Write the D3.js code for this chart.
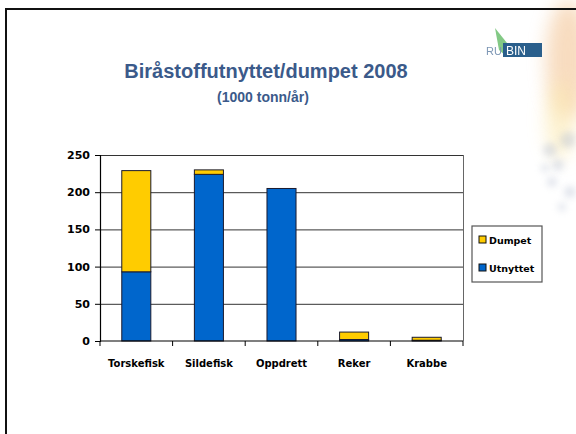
<!DOCTYPE html>
<html>
<head>
<meta charset="utf-8">
<script src="https://cdn.jsdelivr.net/npm/d3@7"></script>
<style>
  html, body { margin: 0; padding: 0; background: #fff; }
  svg { display: block; }
</style>
</head>
<body>
<div id="chart"></div>
<script>
// Biråstoff per sector, 1000 tonn per year
const categories = ["Torskefisk", "Sildefisk", "Oppdrett", "Reker", "Krabbe"];
const utnyttet = [93, 224, 205, 2, 1];
const dumpet = [136, 6, 0, 10, 4];
const yTicks = [0, 50, 100, 150, 200, 250];
const seriesNames = ["Utnyttet", "Dumpet"];
const seriesColors = ["#0066CC", "#FFCC00"];

const W = 576, H = 434;
const svg = d3.select("#chart").append("svg").attr("width", W).attr("height", H);

// soft decorative artwork along the right edge
const defs = svg.append("defs");
defs.append("filter").attr("id", "soft").attr("x", "-80%").attr("y", "-50%")
  .attr("width", "260%").attr("height", "200%")
  .append("feGaussianBlur").attr("stdDeviation", 9);
defs.append("filter").attr("id", "soft2").attr("x", "-80%").attr("y", "-80%")
  .attr("width", "260%").attr("height", "260%")
  .append("feGaussianBlur").attr("stdDeviation", 3.5);
defs.append("filter").attr("id", "soft3").attr("x", "-20%").attr("y", "-20%")
  .attr("width", "140%").attr("height", "140%")
  .append("feGaussianBlur").attr("stdDeviation", 0.6);
const deco = svg.append("g");
deco.append("ellipse").attr("cx", 568).attr("cy", 60).attr("rx", 22).attr("ry", 60)
  .attr("fill", "#f2c08c").attr("opacity", 0.55).attr("filter", "url(#soft)");
deco.append("ellipse").attr("cx", 560).attr("cy", 120).attr("rx", 14).attr("ry", 40)
  .attr("fill", "#fbe9b0").attr("opacity", 0.6).attr("filter", "url(#soft)");
[[550, 150, 7], [558, 165, 6], [568, 140, 8], [552, 182, 5], [570, 192, 6], [562, 207, 4], [545, 168, 4]]
  .forEach(([cx, cy, r]) => deco.append("circle").attr("cx", cx).attr("cy", cy).attr("r", r)
    .attr("fill", "#a9b3c9").attr("opacity", 0.35).attr("filter", "url(#soft2)"));

// slide frame
svg.append("line").attr("x1", 6).attr("x2", W).attr("y1", 9).attr("y2", 9)
  .attr("stroke", "#111").attr("stroke-width", 2);
svg.append("line").attr("x1", 6).attr("x2", 6).attr("y1", 8).attr("y2", H)
  .attr("stroke", "#111").attr("stroke-width", 2);

// logo
const logo = svg.append("g").attr("filter", "url(#soft3)");
logo.append("path").attr("d", "M495,28 L507,43 L506,56 L499,50 Z").attr("fill", "#6cc070").attr("opacity", 0.85);
logo.append("rect").attr("x", 503).attr("y", 43).attr("width", 39).attr("height", 14).attr("fill", "#2a5f8c");
logo.append("text").attr("x", 486).attr("y", 55).attr("font-family", "Liberation Sans, Arial, sans-serif")
  .attr("font-size", 11).attr("fill", "#7d97b5").text("RU");
logo.append("text").attr("x", 506).attr("y", 55).attr("font-family", "Liberation Sans, Arial, sans-serif")
  .attr("font-size", 12).attr("fill", "#ffffff").text("BIN");

// titles
svg.append("text").attr("x", 266).attr("y", 78).attr("text-anchor", "middle")
  .attr("font-family", "Liberation Sans, Arial, sans-serif").attr("font-weight", "bold")
  .attr("font-size", 20).attr("fill", "#3B5A8A").text("Biråstoffutnyttet/dumpet 2008");
svg.append("text").attr("x", 263).attr("y", 102).attr("text-anchor", "middle")
  .attr("font-family", "Liberation Sans, Arial, sans-serif").attr("font-weight", "bold")
  .attr("font-size", 14).attr("fill", "#3B5A8A").text("(1000 tonn/år)");

// plot
const plot = { left: 100, right: 463, top: 155, bottom: 341 };
const x = d3.scaleBand().domain(categories).range([plot.left, plot.right]).paddingInner(0.6).paddingOuter(0.3);
const y = d3.scaleLinear().domain([0, 250]).range([plot.bottom, plot.top]);
const labelFont = "'Comic Sans MS', 'DejaVu Sans', sans-serif";

// grid lines and frame
svg.append("g").selectAll("line").data(yTicks.filter(t => t > 0)).join("line")
  .attr("x1", plot.left).attr("x2", plot.right)
  .attr("y1", d => y(d) + 0.5).attr("y2", d => y(d) + 0.5)
  .attr("stroke", "#333").attr("stroke-width", 1);
svg.append("line").attr("x1", plot.right + 0.5).attr("x2", plot.right + 0.5)
  .attr("y1", plot.top).attr("y2", plot.bottom).attr("stroke", "#666");

// stacked bars
const rows = categories.map((c, i) => ({ cat: c, Utnyttet: utnyttet[i], Dumpet: dumpet[i] }));
const stacked = d3.stack().keys(seriesNames)(rows);
svg.append("g").selectAll("g").data(stacked).join("g")
  .attr("fill", (d, i) => seriesColors[i])
  .selectAll("rect").data(d => d.filter(p => p[1] - p[0] > 0)).join("rect")
  .attr("x", d => x(d.data.cat))
  .attr("width", x.bandwidth())
  .attr("y", d => y(d[1]))
  .attr("height", d => y(d[0]) - y(d[1]))
  .attr("stroke", "#1a1a2e").attr("stroke-width", 1);

// y axis
const yAxis = svg.append("g").attr("transform", `translate(${plot.left},0)`)
  .call(d3.axisLeft(y).tickValues(yTicks).tickSize(5).tickPadding(5));
yAxis.select(".domain").attr("stroke", "#000").attr("stroke-width", 1.2);
yAxis.selectAll(".tick line").attr("stroke", "#000");
yAxis.selectAll("text").attr("font-family", labelFont).attr("font-weight", "bold")
  .attr("font-size", 11).attr("fill", "#000");

// x axis with ticks between categories
const xAxis = svg.append("g").attr("transform", `translate(0,${plot.bottom})`);
xAxis.append("line").attr("x1", plot.left).attr("x2", plot.right).attr("stroke", "#000").attr("stroke-width", 1.2);
const bounds = d3.range(categories.length + 1).map(i => plot.left + (plot.right - plot.left) * i / categories.length);
xAxis.selectAll(".sep").data(bounds).join("line").attr("class", "sep")
  .attr("x1", d => d).attr("x2", d => d).attr("y1", 0).attr("y2", 5).attr("stroke", "#000");
xAxis.selectAll("text").data(categories).join("text")
  .attr("x", d => x(d) + x.bandwidth() / 2).attr("y", 26)
  .attr("text-anchor", "middle").attr("font-family", labelFont).attr("font-weight", "bold")
  .attr("font-size", 10).attr("fill", "#000").text(d => d);

// legend
const legend = svg.append("g");
legend.append("rect").attr("x", 472).attr("y", 226).attr("width", 70).attr("height", 56)
  .attr("fill", "#fff").attr("stroke", "#555").attr("stroke-width", 1.2);
const legendItems = [{ name: "Dumpet", color: seriesColors[1] }, { name: "Utnyttet", color: seriesColors[0] }];
const li = legend.selectAll(".item").data(legendItems).join("g").attr("class", "item")
  .attr("transform", (d, i) => `translate(479,${236 + i * 28})`);
li.append("rect").attr("width", 7).attr("height", 7).attr("fill", d => d.color).attr("stroke", "#111");
li.append("text").attr("x", 10).attr("y", 7.5).attr("font-family", labelFont).attr("font-weight", "bold")
  .attr("font-size", 9.5).attr("fill", "#000").text(d => d.name);
</script>
</body>
</html>
